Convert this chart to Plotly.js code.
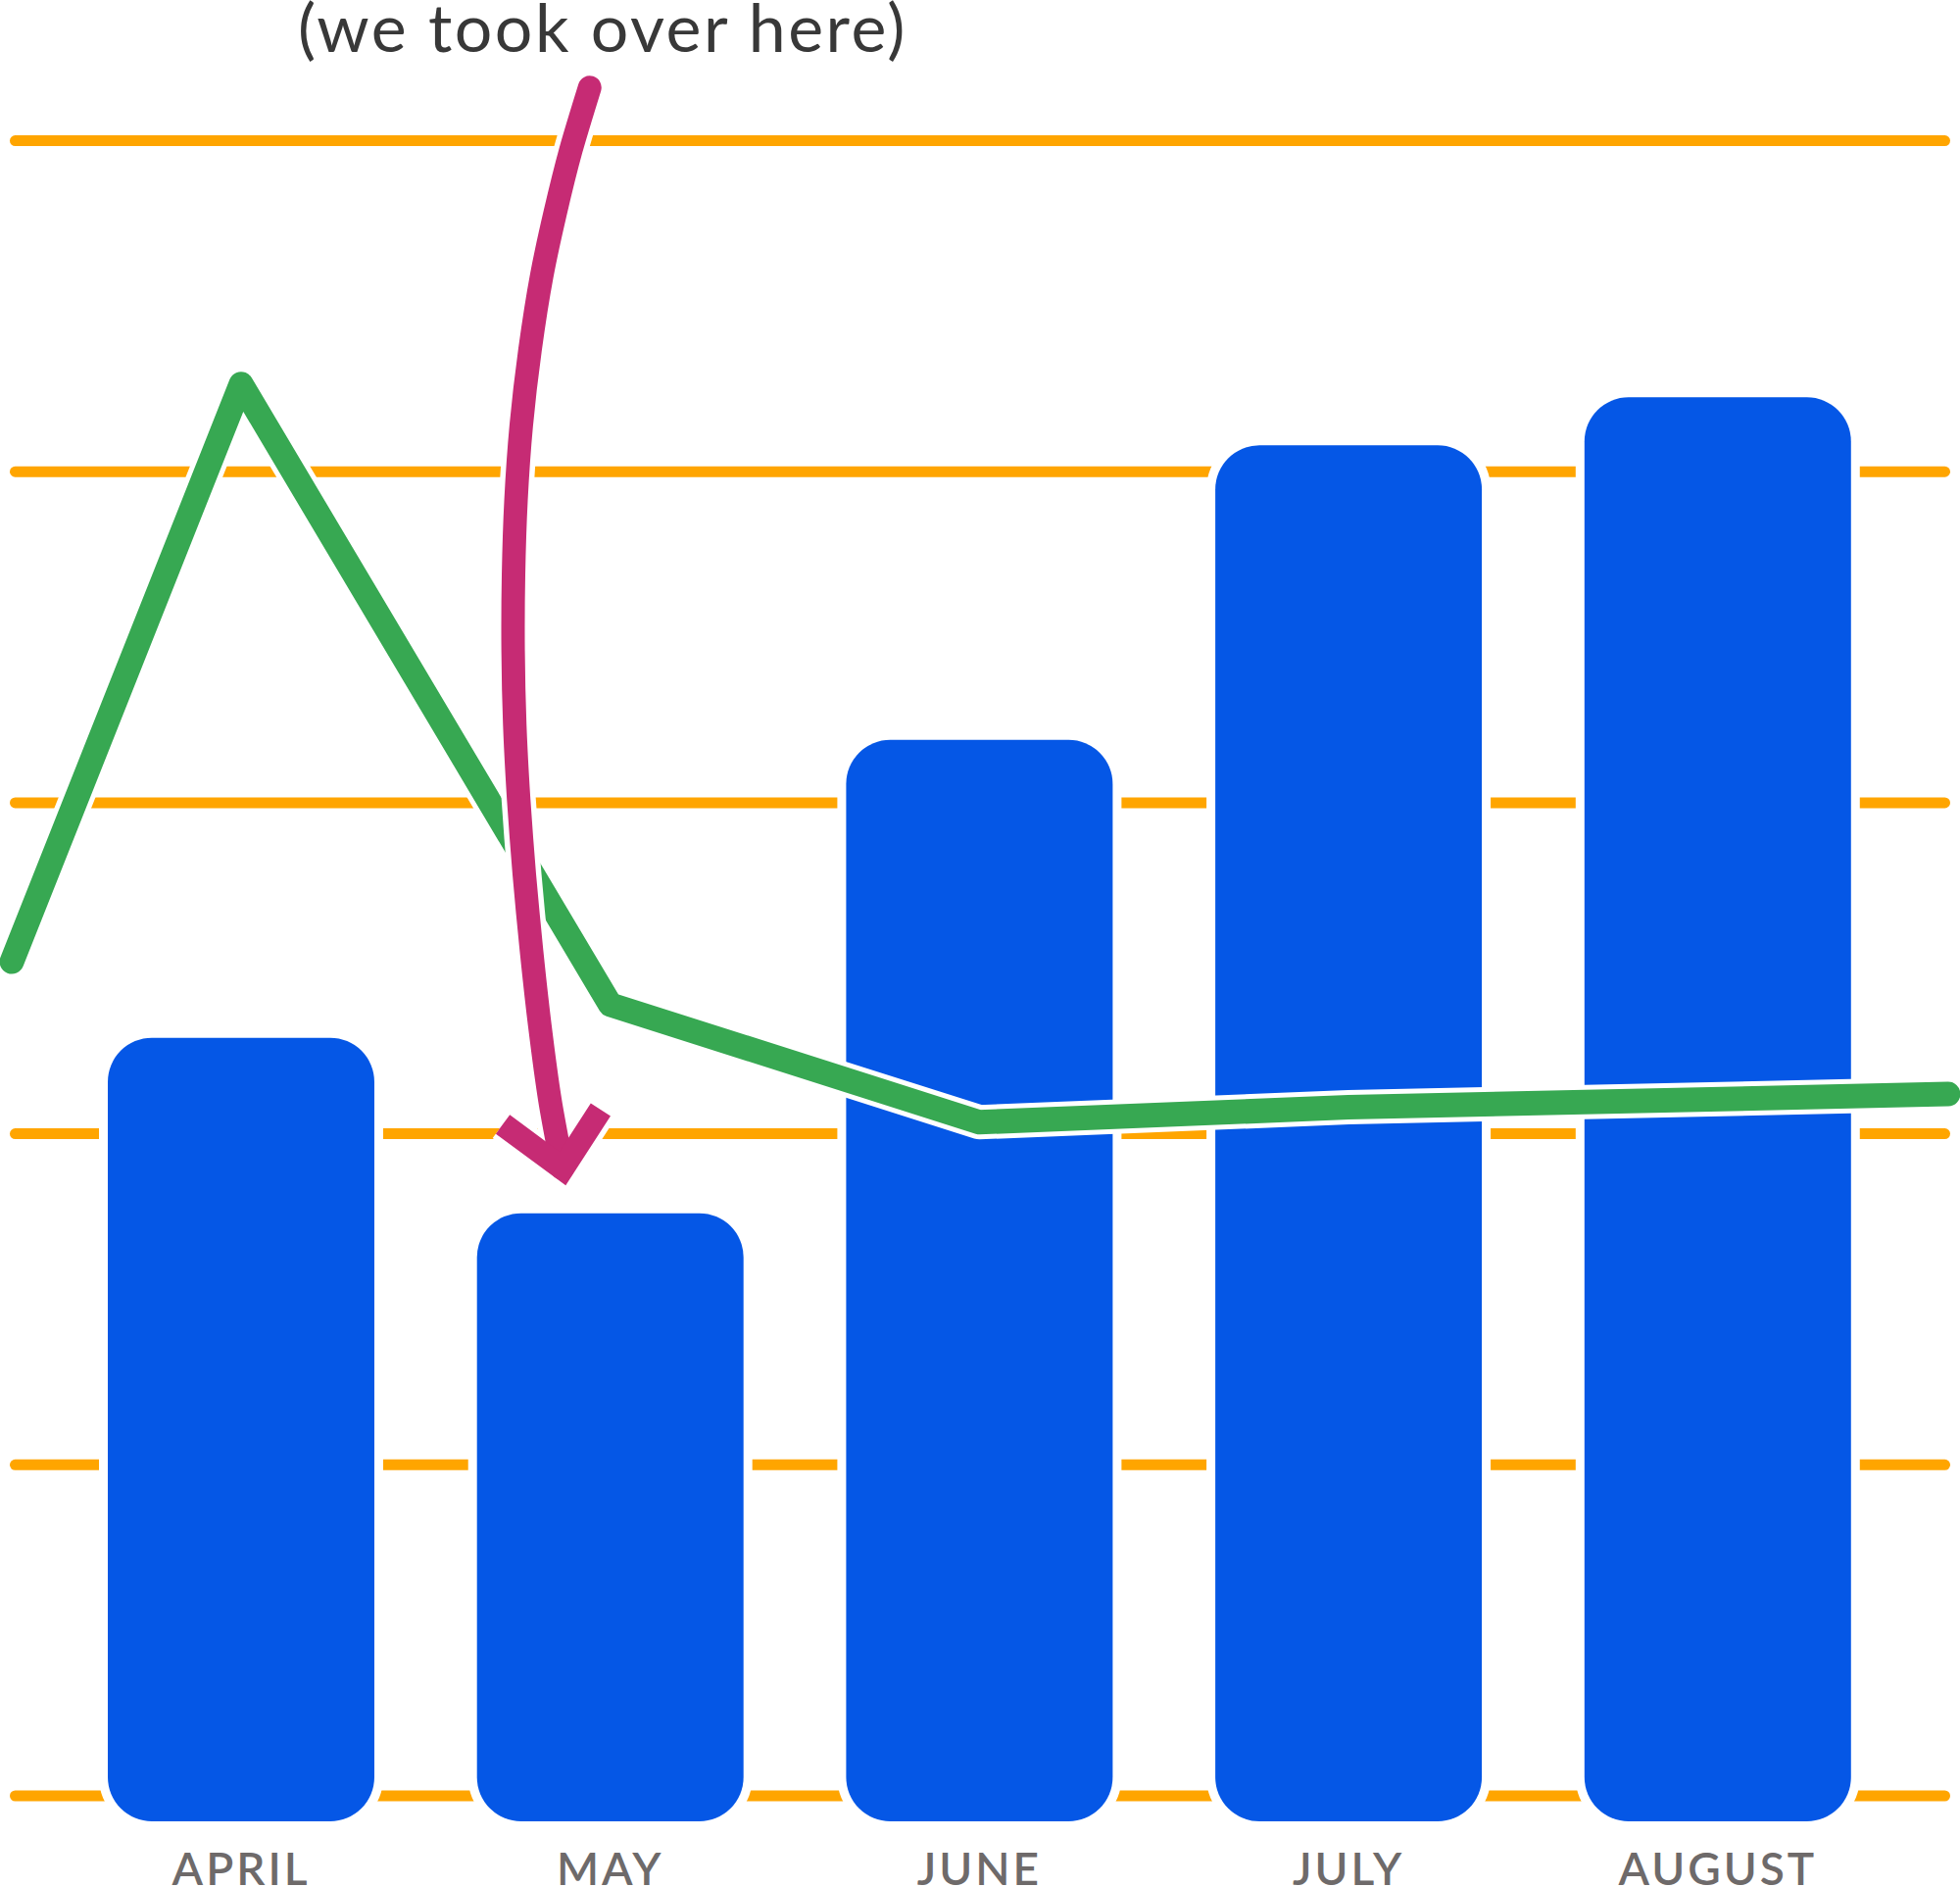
<!DOCTYPE html>
<html>
<head>
<meta charset="utf-8">
<script src="https://cdn.plot.ly/plotly-3.0.1.min.js"></script>
<style>
  html, body { margin: 0; padding: 0; background: #fff; }
  #chart { width: 2000px; height: 1925px; }
  /* rounded ends on the grid, round joins on the trend line */
  .js-plotly-plot .plotly .ygrid.crisp { stroke-linecap: round; shape-rendering: auto; }
  .tracegreen path.js-line, .tracegreenhalo path.js-line { stroke-linejoin: round; stroke-linecap: round; }
  .tracearrow path.js-line, .tracearrowhalo path.js-line { stroke-linecap: round; stroke-linejoin: round; }
  .tracehead path.js-line, .traceheadhalo path.js-line { stroke-linecap: butt; stroke-linejoin: miter; }
  .xtick text { letter-spacing: 3px; }
  .annotation-text { letter-spacing: 2.5px; }
</style>
</head>
<body>
<div id="chart"></div>
<script>
  "use strict";

  const MONTHS = ["APRIL", "MAY", "JUNE", "JULY", "AUGUST"];
  const MONTH_POS = [0, 1, 2, 3, 4];
  const BAR_VALUES = [45.8, 35.2, 63.8, 81.6, 84.5];
  const BAR_FLOOR = -1.54;
  const GRID_VALUES = [0, 20, 40, 60, 80, 100];

  // green trend line, runs edge to edge
  const TREND_X = [-0.621, 0, 1, 2, 3, 4, 4.624];
  const TREND_Y = [50.4, 85.3, 47.8, 40.7, 41.6, 42.05, 42.4];

  // hand-drawn arrow: curved shaft + V head
  const ARROW_X = [0.9443, 0.8933, 0.8511, 0.8147, 0.7826, 0.7590, 0.7447, 0.7380,
    0.7369, 0.7414, 0.7521, 0.7674, 0.7866, 0.8091, 0.8367, 0.8707];
  const ARROW_Y = [103.21, 99.43, 95.66, 91.88, 87.35, 82.81, 78.28, 73.75,
    69.22, 64.68, 60.15, 55.62, 51.09, 46.56, 42.03, 37.91];
  const HEAD_X = [0.709, 0.871, 0.974];
  const HEAD_Y = [40.57, 37.9, 41.46];

  const NOTE = "(we took over here)";

  const BLUE = "#0557e6";
  const ORANGE = "#ffa500";
  const GREEN = "#37a852";
  const PINK = "#c62b74";
  const FONT = "Lato, 'Open Sans', sans-serif";

  const Y_RANGE = [-2.25, 108.5];
  const BAR_W = 0.722;

  const heights = BAR_VALUES.map((v) => v - BAR_FLOOR);

  // white halo first, blue fill on top of it
  function bars(halo) {
    return {
      type: "bar", x: MONTH_POS, y: heights, base: BAR_FLOOR, width: BAR_W,
      xaxis: "x", yaxis: "y", hoverinfo: "skip", showlegend: false,
      marker: {
        color: halo ? "#ffffff" : BLUE,
        cornerradius: 45,
        line: { color: "#ffffff", width: halo ? 18 : 0 },
      },
    };
  }

  function line(uid, xs, ys, color, width, smooth) {
    return {
      type: "scatter", mode: "lines", uid, x: xs, y: ys,
      xaxis: "x2", yaxis: "y2", hoverinfo: "skip", showlegend: false,
      line: { color, width, shape: smooth ? "spline" : "linear", smoothing: 0.8 },
    };
  }

  const traces = [
    bars(true), bars(false),
    line("greenhalo", TREND_X, TREND_Y, "#ffffff", 35),
    line("green", TREND_X, TREND_Y, GREEN, 25),
    line("arrowhalo", ARROW_X, ARROW_Y, "#ffffff", 35, true),
    line("headhalo", HEAD_X, HEAD_Y, "#ffffff", 35),
    line("arrow", ARROW_X, ARROW_Y, PINK, 24, true),
    line("head", HEAD_X, HEAD_Y, PINK, 24),
  ];

  const hidden = { visible: false, fixedrange: true };

  const layout = {
    width: 2000,
    height: 1925,
    margin: { l: 0, r: 0, t: 0, b: 55, pad: 0 },
    paper_bgcolor: "#ffffff",
    plot_bgcolor: "rgba(0,0,0,0)",
    barmode: "overlay",
    showlegend: false,
    font: { family: FONT },
    xaxis: {
      domain: [0.00775, 0.99225],
      range: [-0.6119, 4.6151],
      tickvals: MONTH_POS, ticktext: MONTHS,
      tickfont: { family: FONT, size: 46, color: "#6e6a6a", weight: 600 },
      ticks: "", ticklabelstandoff: 6,
      showgrid: false, zeroline: false, showline: false,
      anchor: "y",
    },
    yaxis: {
      domain: [0, 1], range: Y_RANGE,
      tickvals: GRID_VALUES, showticklabels: false, ticks: "",
      showgrid: true, gridcolor: ORANGE, gridwidth: 11,
      zeroline: false, showline: false, anchor: "x",
    },
    xaxis2: Object.assign({ domain: [0, 1], range: [-0.65304, 4.65623], anchor: "y2" }, hidden),
    yaxis2: Object.assign({ domain: [0, 1], range: Y_RANGE, anchor: "x2" }, hidden),
    annotations: [{
      text: NOTE, xref: "paper", yref: "paper", x: 0.3075, y: 1,
      xanchor: "center", yanchor: "top", yshift: 16, showarrow: false,
      font: { family: FONT, size: 68, color: "#383838" },
    }],
  };

  Plotly.newPlot("chart", traces, layout, { staticPlot: true, displayModeBar: false });
</script>
</body>
</html>
